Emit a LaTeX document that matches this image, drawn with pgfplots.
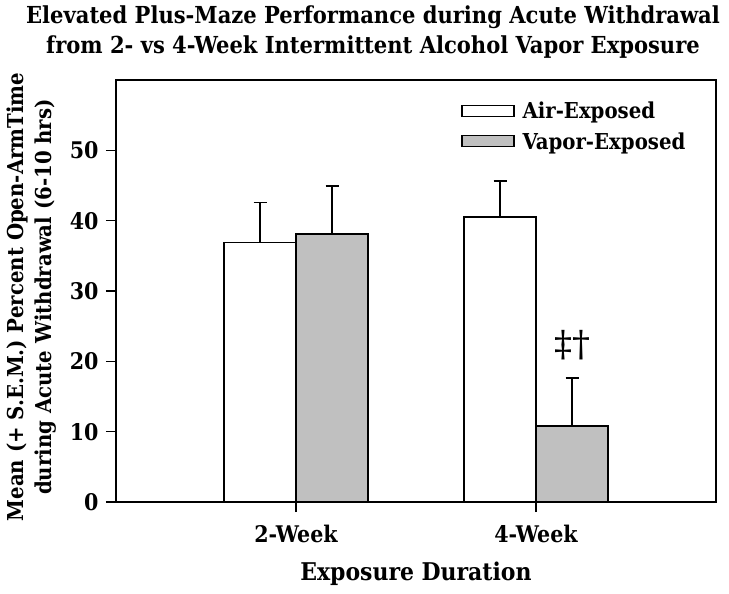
\documentclass[border=0pt]{standalone}
\usepackage{fontspec}
\setmainfont{DejaVu Serif Condensed}
\newfontfamily\symfont{DejaVu Serif}
\usepackage{pgfplots}
\pgfplotsset{compat=1.18}
\definecolor{bargray}{RGB}{192,192,192}
\begin{document}
\begin{tikzpicture}
\useasboundingbox (0,0) rectangle (729bp,594bp);
\node[align=center, font=\fontsize{23.5}{29.5}\selectfont\bfseries] at (373bp,562bp)
  {Elevated Plus-Maze Performance during Acute Withdrawal\\from 2- vs 4-Week Intermittent Alcohol Vapor Exposure};
\node[align=center, rotate=90, font=\fontsize{22}{28}\selectfont\bfseries] at (32bp,297bp)
  {Mean (+ S.E.M.) Percent Open-ArmTime\\during Acute Withdrawal (6-10 hrs)};
\begin{axis}[
  at={(116bp,92bp)}, anchor=south west,
  scale only axis, width=600bp, height=422bp,
  xmin=0.25, xmax=2.75, ymin=0, ymax=60,
  ybar=0pt, bar width=0.3,
  xtick={1,2}, xticklabels={2-Week,4-Week},
  ytick={0,10,20,30,40,50},
  tick align=outside, xtick pos=bottom, ytick pos=left,
  major tick length=10bp,
  tick style={line width=1.4pt, black},
  axis line style={line width=1.6pt},
  ticklabel style={font=\fontsize{23}{27}\selectfont\bfseries},
  /pgf/number format/assume math mode=true,
  xticklabel style={yshift=-10bp},
  yticklabel style={xshift=-4bp},
  xlabel={Exposure Duration},
  xlabel style={font=\fontsize{24.5}{28}\selectfont\bfseries, yshift=-12bp},
  legend style={draw=none, fill=none, at={(rel axis cs:0.57,0.957)}, anchor=north west,
    font=\fontsize{22}{26}\selectfont\bfseries, row sep=8bp, cells={anchor=west},
    /tikz/every even column/.append style={column sep=0bp}},
  legend image code/.code={\draw[#1, line width=1.4pt] (0bp,-5bp) rectangle (52bp,6bp);},
  legend cell align=left,
  error bars/y dir=plus, error bars/y explicit,
  error bars/error bar style={line width=1.6pt, black},
  error bars/error mark options={rotate=90, mark size=6.5bp, line width=1.6pt, black},
]
\addplot[draw=black, fill=white, line width=1.5pt] coordinates {(1,36.9) +- (0,5.7) (2,40.5) +- (0,5.1)};
\addplot[draw=black, fill=bargray, line width=1.5pt] coordinates {(1,38.1) +- (0,6.8) (2,10.8) +- (0,6.8)};
\legend{\hspace{6bp}Air-Exposed, \hspace{6bp}Vapor-Exposed}
\node[font=\symfont\fontsize{36}{36}\selectfont] at (axis cs:2.15,22.3) {‡†};
\end{axis}
\end{tikzpicture}
\end{document}
